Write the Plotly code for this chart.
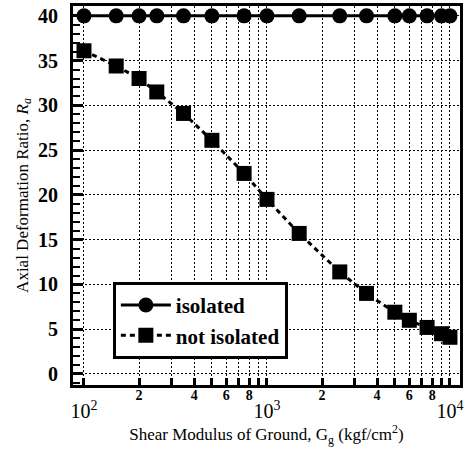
import plotly.graph_objects as go

# Data
shear_modulus = [100, 150, 200, 250, 350, 500, 750, 1000, 1500, 2500, 3500, 5000, 6000, 7500, 9000, 10000]
ratio_isolated = [40, 40, 40, 40, 40, 40, 40, 40, 40, 40, 40, 40, 40, 40, 40, 40]
ratio_not_isolated = [36.1, 34.4, 33.0, 31.5, 29.1, 26.1, 22.4, 19.5, 15.7, 11.4, 9.0, 6.9, 6.0, 5.2, 4.5, 4.1]

minor_tick_vals = [100, 200, 300, 400, 500, 600, 700, 800, 900,
                   1000, 2000, 3000, 4000, 5000, 6000, 7000, 8000, 9000, 10000]
minor_tick_text = ["", "2", "", "4", "", "6", "", "8", "",
                   "", "2", "", "4", "", "6", "", "8", "", ""]
major_tick_vals = [100, 1000, 10000]
major_tick_text = ["10<sup>2</sup>", "10<sup>3</sup>", "10<sup>4</sup>"]
y_tick_vals = [0, 5, 10, 15, 20, 25, 30, 35, 40]

FONT = "Liberation Serif"

fig = go.Figure()
fig.add_trace(go.Scatter(
    x=shear_modulus, y=ratio_isolated, name="isolated", mode="lines+markers",
    line=dict(color="black", width=3),
    marker=dict(symbol="circle", size=15, color="black"),
))
fig.add_trace(go.Scatter(
    x=shear_modulus, y=ratio_not_isolated, name="not isolated", mode="lines+markers",
    line=dict(color="black", width=3, dash="5px,4px"),
    marker=dict(symbol="square", size=15, color="black"),
))
# invisible trace to carry the second x axis (major decade labels)
fig.add_trace(go.Scatter(x=[100, 10000], y=[0, 0], xaxis="x2", mode="markers",
                         marker=dict(opacity=0), showlegend=False, hoverinfo="skip"))

xrange = [1.94, 4.055]
fig.update_layout(
    width=470, height=459,
    margin=dict(l=73, r=10, t=6, b=74, autoexpand=False),
    paper_bgcolor="white", plot_bgcolor="white",
    font=dict(family=FONT, color="black", size=18),
    showlegend=True,
    legend=dict(
        x=0.103, y=0.272, xanchor="left", yanchor="top",
        bgcolor="white", bordercolor="black", borderwidth=3,
        font=dict(family=FONT, size=21, color="black", weight="bold"),
        itemwidth=50, tracegroupgap=0,
    ),
    xaxis=dict(
        type="log", range=xrange, automargin=False,
        tickmode="array", tickvals=minor_tick_vals, ticktext=minor_tick_text,
        ticks="inside", ticklen=7, tickwidth=3, tickcolor="black",
        tickfont=dict(family=FONT, size=14, color="black", weight="bold"),
        showgrid=True, gridcolor="black", gridwidth=1, griddash="2px,2px",
        showline=True, linecolor="black", linewidth=3, mirror=True,
        zeroline=False,
    ),
    xaxis2=dict(
        type="log", range=xrange, overlaying="x", side="bottom", automargin=False,
        tickmode="array", tickvals=major_tick_vals, ticktext=major_tick_text,
        ticks="", showgrid=False, showline=False, zeroline=False,
        tickfont=dict(family=FONT, size=20, color="black"),
        ticklabelstandoff=12,
        title=dict(text="Shear Modulus of Ground, G<sub>g</sub> (kgf/cm<sup>2</sup>)",
                   font=dict(family=FONT, size=17, color="black"), standoff=5),
    ),
    yaxis=dict(
        range=[-1.23, 41.1], automargin=False,
        tickmode="array", tickvals=y_tick_vals,
        ticks="inside", ticklen=10, tickwidth=3, tickcolor="black",
        minor=dict(dtick=1, ticks="inside", ticklen=7, tickwidth=2, tickcolor="black", showgrid=False),
        tickfont=dict(family=FONT, size=20, color="black", weight="bold"),
        showgrid=True, gridcolor="black", gridwidth=1, griddash="2px,2px",
        showline=True, linecolor="black", linewidth=3, mirror=True,
        zeroline=False, ticklabelstandoff=8,
        title=dict(text="Axial Deformation Ratio, <i>R<sub>a</sub></i>",
                   font=dict(family=FONT, size=17, color="black"), standoff=6),
    ),
)
try:
    fig.layout.xaxis.ticklabelstandoff = -5
except Exception:
    fig.layout.xaxis.ticklabelstandoff = 0

fig.write_html("out.html", config={"displayModeBar": False},
               post_script="document.body.style.margin='0';")
